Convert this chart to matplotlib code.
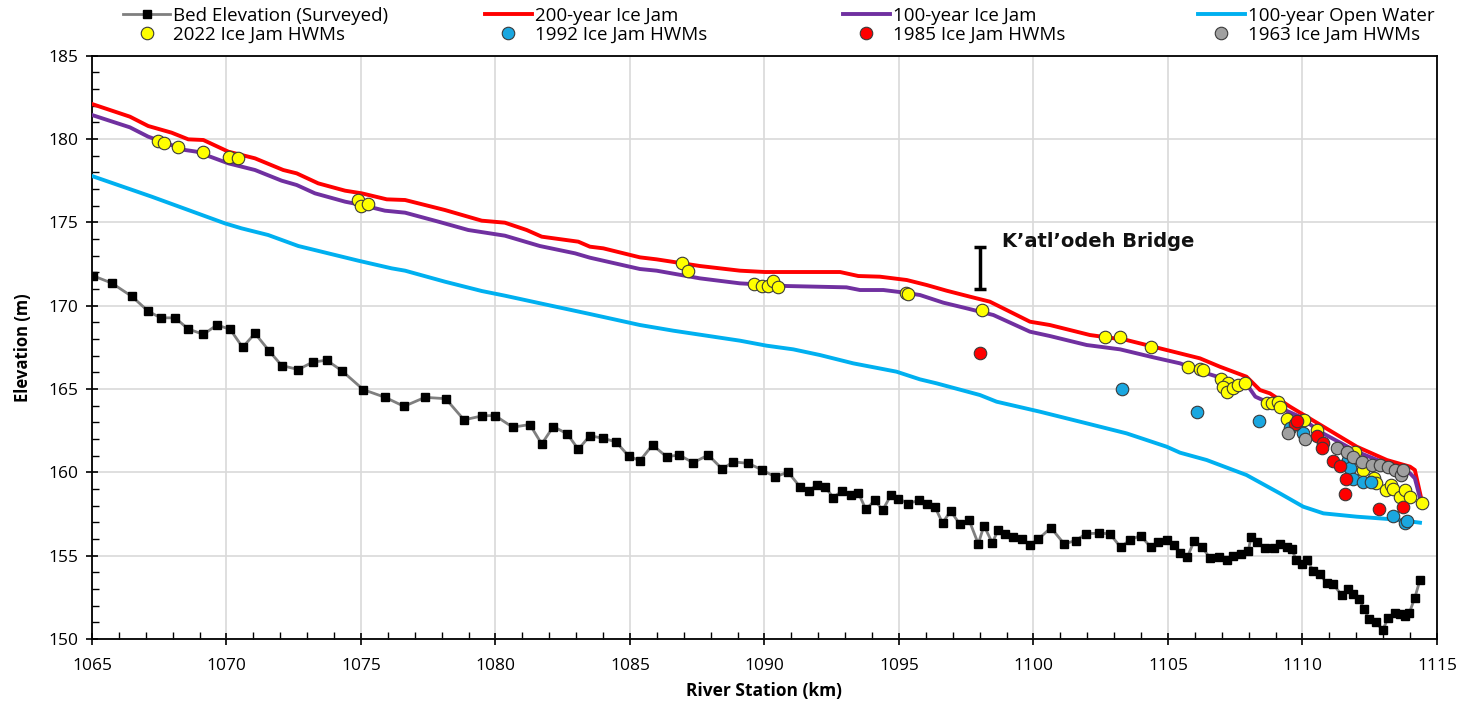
import numpy as np
import matplotlib
matplotlib.use("Agg")
import matplotlib.pyplot as plt
from matplotlib.ticker import MultipleLocator

# ------------------------------ data ------------------------------#
bed_km = [1065.03, 1065.73, 1066.48, 1067.09, 1067.55, 1068.09, 1068.58, 1069.14, 1069.64, 1070.13,
          1070.60, 1071.06, 1071.58, 1072.05, 1072.67, 1073.20, 1073.72, 1074.28, 1075.09, 1075.90,
          1076.60, 1077.38, 1078.15, 1078.83, 1079.51, 1079.98, 1080.64, 1081.28, 1081.72, 1082.15,
          1082.67, 1083.08, 1083.51, 1083.98, 1084.48, 1084.95, 1085.37, 1085.84, 1086.36, 1086.83,
          1087.35, 1087.91, 1088.43, 1088.84, 1089.40, 1089.92, 1090.40, 1090.88, 1091.32, 1091.64,
          1091.96, 1092.25, 1092.56, 1092.87, 1093.20, 1093.49, 1093.77, 1094.11, 1094.39, 1094.70,
          1094.97, 1095.35, 1095.75, 1096.03, 1096.34, 1096.62, 1096.92, 1097.27, 1097.61, 1097.95,
          1098.16, 1098.47, 1098.69, 1098.94, 1099.25, 1099.56, 1099.87, 1100.18, 1100.65, 1101.14,
          1101.58, 1101.95, 1102.43, 1102.84, 1103.24, 1103.59, 1103.98, 1104.36, 1104.64, 1104.95,
          1105.22, 1105.45, 1105.72, 1105.97, 1106.25, 1106.56, 1106.91, 1107.18, 1107.43, 1107.70,
          1107.99, 1108.09, 1108.32, 1108.61, 1108.94, 1109.16, 1109.41, 1109.60, 1109.76, 1109.97,
          1110.16, 1110.40, 1110.65, 1110.90, 1111.14, 1111.46, 1111.70, 1111.89, 1112.11, 1112.29,
          1112.48, 1112.73, 1112.98, 1113.19, 1113.44, 1113.62, 1113.81, 1113.97, 1114.18, 1114.37]
bed_elev = [171.80, 171.36, 170.56, 169.67, 169.27, 169.27, 168.60, 168.28, 168.83, 168.60,
            167.50, 168.34, 167.30, 166.41, 166.17, 166.61, 166.73, 166.11, 164.96, 164.50,
            163.96, 164.50, 164.42, 163.15, 163.39, 163.41, 162.71, 162.87, 161.70, 162.75,
            162.31, 161.38, 162.20, 162.05, 161.83, 160.98, 160.70, 161.64, 160.94, 161.04,
            160.58, 161.04, 160.20, 160.63, 160.54, 160.14, 159.73, 160.02, 159.13, 158.87,
            159.27, 159.13, 158.49, 158.87, 158.63, 158.77, 157.78, 158.33, 157.72, 158.63,
            158.43, 158.13, 158.33, 158.08, 157.92, 156.96, 157.68, 156.88, 157.12, 155.71,
            156.80, 155.77, 156.56, 156.32, 156.11, 155.99, 155.67, 155.99, 156.68, 155.71,
            155.91, 156.32, 156.35, 156.32, 155.51, 155.95, 156.21, 155.51, 155.81, 155.97,
            155.67, 155.15, 154.91, 155.87, 155.55, 154.87, 154.91, 154.77, 155.01, 155.11,
            155.31, 156.11, 155.81, 155.47, 155.45, 155.71, 155.51, 155.41, 154.77, 154.50,
            154.77, 154.10, 153.90, 153.34, 153.30, 152.63, 152.99, 152.69, 152.39, 151.79,
            151.19, 151.04, 150.52, 151.28, 151.55, 151.52, 151.38, 151.55, 152.49, 153.54]

jam200_km = [1065.0, 1066.41, 1067.09, 1067.96, 1068.58, 1069.14, 1070.07, 1071.06, 1072.11, 1072.61,
             1073.41, 1074.41, 1075.03, 1075.96, 1076.64, 1078.12, 1079.49, 1080.35, 1081.16, 1081.72,
             1083.08, 1083.51, 1084.01, 1085.37, 1085.99, 1087.6, 1089.09, 1090.02, 1092.81, 1093.49,
             1094.29, 1095.29, 1096.03, 1096.77, 1097.64, 1098.38, 1099.87, 1100.61, 1102.1, 1103.46,
             1104.95, 1106.19, 1106.93, 1107.92, 1108.42, 1108.79, 1109.54, 1110.78, 1112.02, 1113.14,
             1114.0, 1114.18, 1114.43]
jam200_elev = [182.1, 181.34, 180.78, 180.38, 179.98, 179.94, 179.24, 178.84, 178.14, 177.94,
               177.34, 176.9, 176.74, 176.38, 176.34, 175.74, 175.1, 174.98, 174.54, 174.14,
               173.84, 173.54, 173.44, 172.9, 172.78, 172.38, 172.1, 172.02, 172.02, 171.78,
               171.74, 171.54, 171.24, 170.9, 170.54, 170.24, 169.04, 168.84, 168.24, 167.94,
               167.34, 166.84, 166.34, 165.74, 164.94, 164.74, 163.94, 162.74, 161.54, 160.74,
               160.34, 160.14, 158.34]

jam100_km = [1065.0, 1066.41, 1067.09, 1068.46, 1068.89, 1070.07, 1071.06, 1072.05, 1072.61, 1073.29,
             1074.41, 1075.03, 1075.89, 1076.64, 1077.88, 1078.99, 1080.35, 1081.65, 1082.96, 1083.51,
             1085.37, 1085.99, 1087.6, 1089.09, 1090.82, 1093.05, 1093.55, 1094.42, 1095.22, 1095.78,
             1096.65, 1097.52, 1098.51, 1099.87, 1100.61, 1101.98, 1103.22, 1104.46, 1105.45, 1106.44,
             1107.43, 1107.99, 1108.25, 1108.93, 1109.9, 1110.65, 1112.02, 1113.25, 1114.0, 1114.18,
             1114.39]
jam100_elev = [181.44, 180.7, 180.14, 179.34, 179.24, 178.54, 178.14, 177.5, 177.24, 176.74,
               176.24, 176.04, 175.7, 175.58, 175.04, 174.54, 174.2, 173.58, 173.14, 172.88,
               172.2, 172.1, 171.64, 171.34, 171.18, 171.1, 170.94, 170.94, 170.78, 170.64,
               170.18, 169.84, 169.44, 168.44, 168.18, 167.64, 167.38, 166.9, 166.54, 165.94,
               165.44, 165.14, 164.54, 164.04, 163.34, 162.44, 161.24, 160.44, 159.94, 159.64,
               158.34]

ow100_km = [1065.0, 1067.22, 1069.94, 1070.56, 1071.55, 1072.67, 1074.9, 1076.14, 1076.64, 1078.12,
            1079.49, 1080.35, 1081.78, 1083.51, 1085.37, 1086.61, 1089.09, 1090.08, 1091.07, 1092.06,
            1093.3, 1094.91, 1095.78, 1096.4, 1098.01, 1098.63, 1100.24, 1101.98, 1103.46, 1104.95,
            1105.45, 1106.44, 1107.92, 1109.16, 1110.03, 1110.78, 1112.02, 1113.38, 1114.37]
ow100_elev = [177.78, 176.54, 174.94, 174.64, 174.24, 173.58, 172.7, 172.24, 172.1, 171.44,
              170.88, 170.6, 170.1, 169.5, 168.84, 168.5, 167.9, 167.6, 167.38, 167.04,
              166.54, 166.04, 165.58, 165.34, 164.64, 164.24, 163.64, 162.94, 162.34, 161.54,
              161.18, 160.74, 159.84, 158.74, 157.94, 157.54, 157.34, 157.18, 156.98]

hwm2022_km = [1067.44, 1067.69, 1068.19, 1069.14, 1070.1, 1070.41, 1074.9, 1075.0, 1075.25, 1086.92,
              1087.17, 1089.61, 1089.92, 1090.14, 1090.33, 1090.51, 1095.27, 1095.35, 1098.07, 1102.66,
              1103.22, 1104.36, 1105.76, 1106.2, 1106.32, 1106.99, 1107.24, 1107.05, 1107.18, 1107.43,
              1107.61, 1107.86, 1108.67, 1108.85, 1109.1, 1109.16, 1109.41, 1110.06, 1110.53, 1111.97,
              1112.26, 1112.66, 1112.72, 1113.09, 1113.3, 1113.38, 1113.63, 1113.81, 1114.0, 1114.43]
hwm2022_elev = [179.88, 179.74, 179.54, 179.2, 178.9, 178.84, 176.34, 175.98, 176.1, 172.54,
                172.08, 171.3, 171.18, 171.18, 171.5, 171.14, 170.74, 170.7, 169.74, 168.1,
                168.14, 167.5, 166.3, 166.2, 166.14, 165.58, 165.38, 165.14, 164.84, 165.04,
                165.24, 165.34, 164.14, 164.14, 164.24, 163.94, 163.18, 163.14, 162.54, 161.24,
                160.14, 159.64, 159.34, 158.94, 159.24, 158.98, 158.54, 158.94, 158.54, 158.18]

hwm1992_km = [1103.28, 1106.09, 1108.4, 1109.54, 1110.03, 1111.7, 1111.77, 1111.89, 1112.26, 1112.54,
              1113.38, 1113.81, 1113.88]
hwm1992_elev = [164.98, 163.6, 163.1, 162.64, 162.34, 160.74, 160.24, 159.58, 159.44, 159.4,
                157.38, 156.94, 157.1]

hwm1985_km = [1098.01, 1109.72, 1109.78, 1110.53, 1110.78, 1110.71, 1111.14, 1111.39, 1111.62, 1111.58,
              1112.84, 1113.75]
hwm1985_elev = [167.14, 162.9, 163.1, 162.18, 161.78, 161.44, 160.68, 160.38, 159.58, 158.7,
                157.78, 157.9]

hwm1963_km = [1109.47, 1110.09, 1111.27, 1111.64, 1111.89, 1112.2, 1112.57, 1112.88, 1113.19, 1113.44,
              1113.65, 1113.72]
hwm1963_elev = [162.38, 161.98, 161.44, 161.24, 160.9, 160.64, 160.44, 160.44, 160.34, 160.14,
                159.84, 160.14]

bridge_km = 1098.03
bridge_low = 171.0
bridge_high = 173.55
bridge_label = "K\u2019atl\u2019odeh Bridge"

# ------------------------------ plot ------------------------------#
plt.rcParams['font.family'] = ['Open Sans', 'DejaVu Sans']

fig = plt.figure(figsize=(14.6, 7.02), dpi=100)
ax = fig.add_axes([0.063, 0.0897, 0.9212, 0.831])

bed, = ax.plot(bed_km, bed_elev, color='#7f7f7f', lw=2.0, marker='s', ms=5.5,
               mfc='black', mec='black', label='Bed Elevation (Surveyed)', zorder=3)
l200, = ax.plot(jam200_km, jam200_elev, color='#ff0000', lw=2.8, label='200-year Ice Jam', zorder=4)
l100, = ax.plot(jam100_km, jam100_elev, color='#7030a0', lw=2.8, label='100-year Ice Jam', zorder=4)
low, = ax.plot(ow100_km, ow100_elev, color='#00b0f0', lw=2.8, label='100-year Open Water', zorder=4)

mk = dict(ls='none', marker='o', ms=9, mec='#3a3a3a', mew=0.8, zorder=5)
h22, = ax.plot(hwm2022_km, hwm2022_elev, mfc='#ffff00', label='2022 Ice Jam HWMs', **mk)
h92, = ax.plot(hwm1992_km, hwm1992_elev, mfc='#1aa7e0', label='1992 Ice Jam HWMs', **mk)
h85, = ax.plot(hwm1985_km, hwm1985_elev, mfc='#ff0000', label='1985 Ice Jam HWMs', **mk)
h63, = ax.plot(hwm1963_km, hwm1963_elev, mfc='#a0a0a0', label='1963 Ice Jam HWMs', **mk)

# bridge marker
ax.errorbar([bridge_km], [(bridge_low + bridge_high) / 2], yerr=[(bridge_high - bridge_low) / 2],
            fmt='none', ecolor='black', elinewidth=2.5, capsize=4.5, capthick=2.5, zorder=6)
ax.text(bridge_km + 0.8, bridge_high + 0.3, bridge_label, fontsize=14, fontweight='bold',
        family='DejaVu Sans', va='center', ha='left', color='#111111')

ax.set_xlim(1065, 1115)
ax.set_ylim(150, 185)
ax.xaxis.set_major_locator(MultipleLocator(5))
ax.xaxis.set_minor_locator(MultipleLocator(1))
ax.yaxis.set_major_locator(MultipleLocator(5))
ax.yaxis.set_minor_locator(MultipleLocator(1))
ax.tick_params(which='major', direction='inout', length=9, width=1.2, labelsize=12.5)
ax.tick_params(axis='x', which='major', pad=9)
ax.tick_params(axis='y', which='major', pad=5)
ax.tick_params(which='minor', direction='in', length=5, width=1.0)
ax.grid(True, which='major', color='#d9d9d9', lw=1.2, zorder=0)
ax.set_axisbelow(True)
for s in ax.spines.values():
    s.set_linewidth(1.3)
    s.set_color('black')

ax.set_xlabel('River Station (km)', fontsize=12.5, fontweight='bold', labelpad=6)
ax.set_ylabel('Elevation (m)', fontsize=12, fontweight='bold', labelpad=12)

# legend: four columns of equal width above the axes
cols = [(bed, h22), (l200, h92), (l100, h85), (low, h63)]
col_x = [0.0843, 0.3322, 0.5774, 0.8205]
for (a, b), x in zip(cols, col_x):
    fig.legend(handles=[a, b], loc='upper left', bbox_to_anchor=(x, 0.990), frameon=False,
               fontsize=13.5, handlelength=2.5, handletextpad=0.15, labelspacing=0.05,
               borderpad=0, borderaxespad=0)

plt.savefig('out.png', dpi=100)
